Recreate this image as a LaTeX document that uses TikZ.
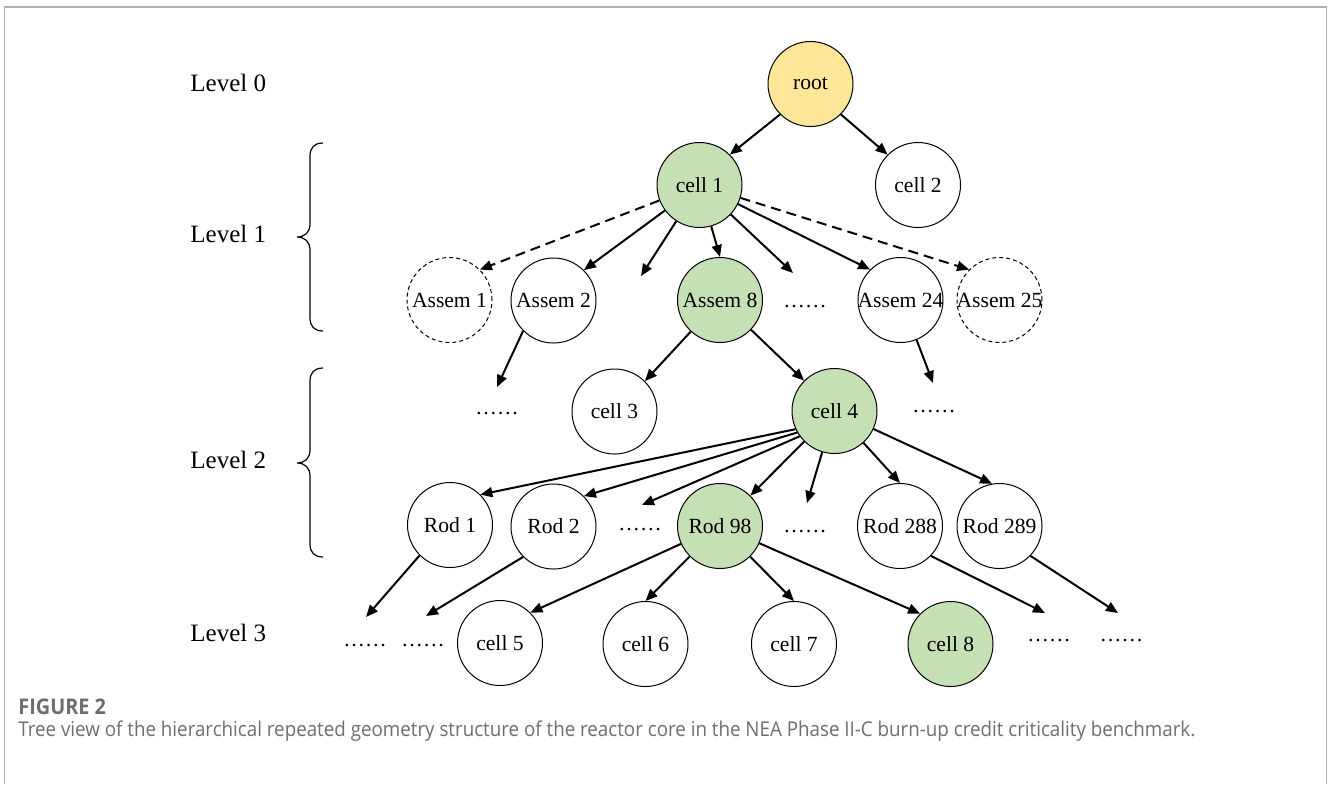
\documentclass[tikz,border=0pt]{standalone}
\usepackage{fontspec}
\setmainfont{Liberation Serif}
\newfontfamily\capfont[FakeStretch=0.92]{Open Sans}
\usetikzlibrary{arrows.meta}
\definecolor{rootfill}{HTML}{FFE699}
\definecolor{greenfill}{HTML}{C5E0B4}
\definecolor{capgray}{HTML}{6E6E6E}
\definecolor{framegray}{HTML}{B0B0B0}
\begin{document}
\begin{tikzpicture}[x=0.5pt,y=-0.5pt,
  nd/.style={circle,draw,line width=0.5pt,minimum size=42.5pt,inner sep=-2pt,font=\fontsize{10.8}{12}\selectfont},
  gn/.style={nd,fill=greenfill},
  dn/.style={nd,dash pattern=on 2pt off 1.5pt},
  dotnode/.style={inner sep=0pt,anchor=base,font=\fontsize{10.8}{12}\selectfont},
  lvl/.style={anchor=west,inner sep=0pt,font=\fontsize{12.5}{15}\selectfont},
  arr/.style={line width=1pt,-{Triangle[length=6pt,width=5pt]}},
  darr/.style={arr,dash pattern=on 5pt off 3pt},
  bracestyle/.style={line width=0.6pt},
  capstyle/.style={anchor=base west,inner sep=0pt,text=capgray}
]
\useasboundingbox (0,0) rectangle (1328,784);
% frame
\draw[framegray,line width=0.75pt] (4.5,784) -- (4.5,7) -- (1326.5,7) -- (1326.5,784);

% level labels
\node[lvl] (l0) at (190,83) {Level 0};
\node[lvl] (l1) at (190,234) {Level 1};
\node[lvl] (l2) at (190,460) {Level 2};
\node[lvl] (l3) at (190,633) {Level 3};

% braces
\draw[bracestyle] (323,143) .. controls (314,143) and (310,148) .. (310,156) -- (310,224)
  .. controls (310,232) and (305,237) .. (297,237)
  .. controls (305,237) and (310,242) .. (310,250) -- (310,318)
  .. controls (310,326) and (314,331) .. (323,331);
\draw[bracestyle] (323,368) .. controls (314,368) and (310,373) .. (310,381) -- (310,450)
  .. controls (310,458) and (305,463) .. (297,463)
  .. controls (305,463) and (310,468) .. (310,476) -- (310,544)
  .. controls (310,552) and (314,557) .. (323,557);

% nodes
\node[nd,fill=rootfill] (root) at (810.5,84) {root};
\node[gn] (cell1) at (699.5,185) {cell 1};
\node[nd] (cell2) at (918,185) {cell 2};

\node[dn] (assem1) at (449.5,300) {Assem 1};
\node[nd] (assem2) at (553.5,300.5) {Assem 2};
\node[gn] (assem8) at (720,300) {Assem 8};
\node[dotnode] (dA) at (805,307) {……};
\node[nd] (assem24) at (900.5,300) {Assem 24};
\node[dn] (assem25) at (999.5,300) {Assem 25};

\node[dotnode] (dB1) at (497,414) {……};
\node[nd] (cell3) at (614.5,411.5) {cell 3};
\node[gn] (cell4) at (834.5,411) {cell 4};
\node[dotnode] (dB2) at (934,412) {……};

\node[nd] (rod1) at (450,525) {Rod 1};
\node[nd] (rod2) at (553.5,526.5) {Rod 2};
\node[dotnode] (dC1) at (640,530) {……};
\node[gn] (rod98) at (720,526) {Rod 98};
\node[dotnode] (dC2) at (805,532) {……};
\node[nd] (rod288) at (900,526) {Rod 288};
\node[nd] (rod289) at (999.5,526) {Rod 289};

\node[dotnode] (dD1) at (365,646) {……};
\node[dotnode] (dD2) at (423,646) {……};
\node[nd] (cell5) at (500,643) {cell 5};
\node[nd] (cell6) at (645.5,644) {cell 6};
\node[nd] (cell7) at (794,644) {cell 7};
\node[gn] (cell8) at (950.5,644) {cell 8};
\node[dotnode] (dD3) at (1049,641) {……};
\node[dotnode] (dD4) at (1121.5,641) {……};

% free arrow ends
\coordinate (fA) at (641,276);
\coordinate (fB) at (793,273);
\coordinate (fC) at (497,387);
\coordinate (fD) at (933,383);
\coordinate (fE) at (642,505);
\coordinate (fF) at (807,503);
\coordinate (fG) at (366,617);
\coordinate (fH) at (426,616);
\coordinate (fI) at (1045,613);
\coordinate (fJ) at (1118,613);

% edges
\draw[arr] (root.225) -- (cell1.45);
\draw[arr] (root.-45) -- (cell2.135);

\draw[darr] (cell1) -- (assem1.45);
\draw[arr] (cell1) -- (assem2.45);
\draw[arr] (cell1) -- (fA);
\draw[arr] (cell1) -- (assem8.north);
\draw[arr] (cell1) -- (fB);
\draw[arr] (cell1) -- (assem24.135);
\draw[darr] (cell1) -- (assem25.135);

\draw[arr] (assem2.225) -- (fC);
\draw[arr] (assem8) -- (cell3.45);
\draw[arr] (assem8) -- (cell4.135);
\draw[arr] (assem24.-68) -- (fD);

\draw[arr] (cell4.205) -- (rod1.45);
\draw[arr] (cell4.210) -- (rod2.45);
\draw[arr] (cell4.216) -- (fE);
\draw[arr] (cell4) -- (rod98.45);
\draw[arr] (cell4) -- (fF);
\draw[arr] (cell4) -- (rod288.north);
\draw[arr] (cell4) -- (rod289.100);

\draw[arr] (rod1.225) -- (fG);
\draw[arr] (rod2.225) -- (fH);
\draw[arr] (rod98) -- (cell5.45);
\draw[arr] (rod98) -- (cell6.north);
\draw[arr] (rod98) -- (cell7.north);
\draw[arr] (rod98) -- (cell8.135);
\draw[arr] (rod288.-44) -- (fI);
\draw[arr] (rod289.-44) -- (fJ);

% caption
\node[capstyle,font=\capfont\fontsize{10.8}{12}\selectfont\bfseries] (figlabel) at (18,714) {FIGURE 2};
\node[capstyle,font=\capfont\fontsize{10.2}{12}\selectfont] (caption) at (18,736) {Tree view of the hierarchical repeated geometry structure of the reactor core in the NEA Phase II-C burn-up credit criticality benchmark.};
\end{tikzpicture}
\end{document}
